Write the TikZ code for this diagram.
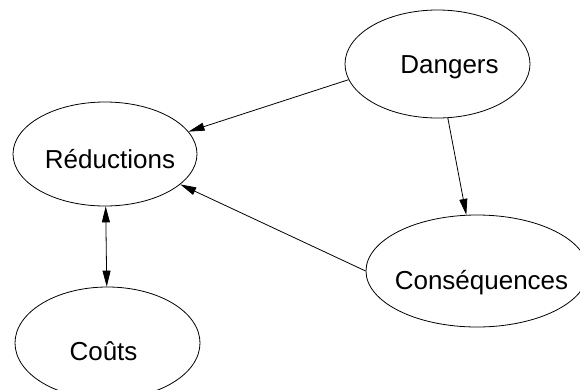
\documentclass[tikz,border=0pt]{standalone}
\usepackage{fontspec}
\setmainfont{Liberation Sans}
\usetikzlibrary{shapes.geometric, arrows.meta}

\begin{document}
\begin{tikzpicture}  [
    x=1pt, y=-1pt,
    topic/.style={draw, ellipse, line width=0.8pt, inner sep=0pt, text height=18.6pt, text depth=0pt, font=\fontsize{26}{30}\selectfont},
    link/.style={-{Triangle[length=16pt, width=8pt]}, line width=0.8pt},
  ]

\useasboundingbox (0,0) rectangle (580,389);

\node[topic, minimum width=185pt, minimum height=108pt] (dangers) at (437.5,64) {\makebox[0pt]{\hspace{24pt}Dangers}};
\node[topic, minimum width=184pt, minimum height=104pt, text height=28.6pt] (reductions) at (105,154) {\makebox[0pt]{\hspace{10pt}Réductions}};
\node[topic, minimum width=222pt, minimum height=112pt, text height=36.6pt] (consequences) at (477,271) {\makebox[0pt]{\hspace{9pt}Conséquences}};
\node[topic, minimum width=185pt, minimum height=112pt, text height=34.6pt] (couts) at (107.5,343) {\makebox[0pt]{Coûts\hspace{8pt}}};

\draw[link] (dangers.190) -- (reductions.15);
\draw[link] (dangers) -- (consequences);
\draw[link] (consequences.180) -- (reductions.338);
\draw[link, {Triangle[length=16pt, width=8pt]}-{Triangle[length=16pt, width=8pt]}] (reductions) -- (couts);
% ..
\end{tikzpicture}
\end{document}
